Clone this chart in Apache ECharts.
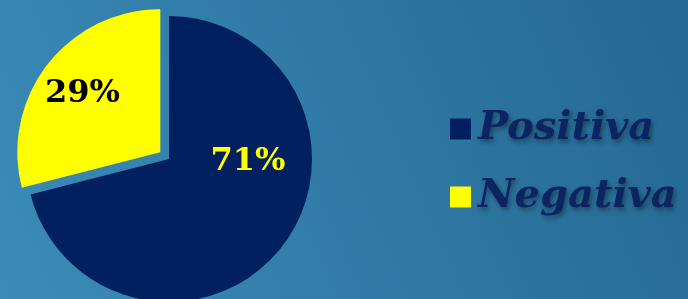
<!DOCTYPE html>
<html>
<head>
<meta charset="utf-8">
<script src="https://cdn.jsdelivr.net/npm/echarts@6/dist/echarts.min.js"></script>
<style>
  html, body { margin: 0; padding: 0; }
  #chart { width: 688px; height: 299px; }
</style>
</head>
<body>
<div id="chart"></div>
<script>
// data
const categories = ['Positiva', 'Negativa'];
const shares = [71, 29];

// styles
const sliceColors = ['#002060', '#ffff00'];
const labelColors = ['#ffff00', '#000000'];
// shift of each label away from its default inside spot
const labelOffsets = [[20, -43], [-19, -13]];

const chart = echarts.init(document.getElementById('chart'));

const option = {
  backgroundColor: {
    type: 'linear', x: 0, y: 1, x2: 1, y2: 0,
    colorStops: [
      {offset: 0, color: '#3b8cb8'},
      {offset: 1, color: '#246893'}
    ]
  },
  animation: false,
  legend: {
    orient: 'vertical',
    left: 445,
    top: 101,
    icon: 'rect',
    itemWidth: 21,
    itemHeight: 21,
    itemGap: 22,
    selectedMode: false,
    textStyle: {
      fontFamily: 'DejaVu Serif',
      fontStyle: 'italic',
      fontWeight: 'bold',
      fontSize: 40,
      lineHeight: 46,
      color: '#0d2462',
      padding: [0, 0, 0, 2],
      textShadowColor: 'rgba(0,0,0,0.4)',
      textShadowBlur: 5,
      textShadowOffsetX: 2,
      textShadowOffsetY: 3
    },
    data: categories
  },
  series: [
    {
      type: 'pie',
      center: [169, 159],
      radius: 143,
      startAngle: 90,
      clockwise: true,
      selectedMode: 'single',
      selectedOffset: 11,
      silent: true,
      label: {
        show: true,
        position: 'inside',
        formatter: p => p.value + '%',
        fontFamily: 'DejaVu Serif',
        fontWeight: 'bold',
        fontSize: 32
      },
      labelLine: {show: false},
      emphasis: {disabled: true},
      data: categories.map((name, i) => ({
        name: name,
        value: shares[i],
        selected: i === 1,
        itemStyle: {color: sliceColors[i]},
        select: {
          itemStyle: {color: sliceColors[i], borderWidth: 0},
          label: {color: labelColors[i], offset: labelOffsets[i]}
        },
        label: {color: labelColors[i], offset: labelOffsets[i]}
      }))
    }
  ]
};

chart.setOption(option);
</script>
</body>
</html>
